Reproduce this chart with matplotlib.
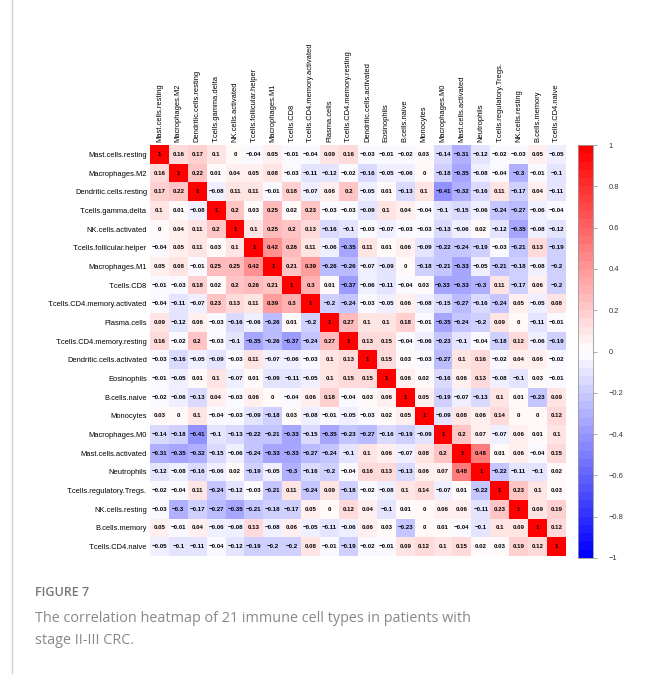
import numpy as np
import matplotlib
matplotlib.use("Agg")
import matplotlib.pyplot as plt
from matplotlib.colors import LinearSegmentedColormap
from matplotlib.lines import Line2D

cell_types = [
    "Mast.cells.resting", "Macrophages.M2", "Dendritic.cells.resting",
    "T.cells.gamma.delta", "NK.cells.activated", "T.cells.follicular.helper",
    "Macrophages.M1", "T.cells.CD8", "T.cells.CD4.memory.activated",
    "Plasma.cells", "T.cells.CD4.memory.resting", "Dendritic.cells.activated",
    "Eosinophils", "B.cells.naive", "Monocytes", "Macrophages.M0",
    "Mast.cells.activated", "Neutrophils", "T.cells.regulatory.Tregs.",
    "NK.cells.resting", "B.cells.memory", "T.cells.CD4.naive",
]

corr = [
    [1, 0.16, 0.17, 0.1, 0, -0.04, 0.05, -0.01, -0.04, 0.09, 0.16, -0.03, -0.01, -0.02, 0.03, -0.14, -0.31, -0.12, -0.02, -0.03, 0.05, -0.05],
    [0.16, 1, 0.22, 0.01, 0.04, 0.05, 0.08, -0.03, -0.11, -0.12, -0.02, -0.16, -0.05, -0.06, 0, -0.18, -0.35, -0.08, -0.04, -0.3, -0.01, -0.1],
    [0.17, 0.22, 1, -0.08, 0.11, 0.11, -0.01, 0.18, -0.07, 0.06, 0.2, -0.05, 0.01, -0.13, 0.1, -0.41, -0.32, -0.16, 0.11, -0.17, 0.04, -0.11],
    [0.1, 0.01, -0.08, 1, 0.2, 0.03, 0.25, 0.02, 0.23, -0.03, -0.03, -0.09, 0.1, 0.04, -0.04, -0.1, -0.15, -0.06, -0.24, -0.27, -0.06, -0.04],
    [0, 0.04, 0.11, 0.2, 1, 0.1, 0.25, 0.2, 0.13, -0.16, -0.1, -0.03, -0.07, -0.03, -0.03, -0.13, -0.06, 0.02, -0.12, -0.35, -0.08, -0.12],
    [-0.04, 0.05, 0.11, 0.03, 0.1, 1, 0.42, 0.26, 0.11, -0.06, -0.35, 0.11, 0.01, 0.06, -0.09, -0.22, -0.24, -0.19, -0.03, -0.21, 0.13, -0.19],
    [0.05, 0.08, -0.01, 0.25, 0.25, 0.42, 1, 0.21, 0.39, -0.26, -0.26, -0.07, -0.09, 0, -0.18, -0.21, -0.33, -0.05, -0.21, -0.18, -0.08, -0.2],
    [-0.01, -0.03, 0.18, 0.02, 0.2, 0.26, 0.21, 1, 0.3, 0.01, -0.37, -0.06, -0.11, -0.04, 0.03, -0.33, -0.33, -0.3, 0.11, -0.17, 0.06, -0.2],
    [-0.04, -0.11, -0.07, 0.23, 0.13, 0.11, 0.39, 0.3, 1, -0.2, -0.24, -0.03, -0.05, 0.06, -0.08, -0.15, -0.27, -0.16, -0.24, 0.05, -0.05, 0.08],
    [0.09, -0.12, 0.06, -0.03, -0.16, -0.06, -0.26, 0.01, -0.2, 1, 0.27, 0.1, 0.1, 0.18, -0.01, -0.35, -0.24, -0.2, 0.09, 0, -0.11, -0.01],
    [0.16, -0.02, 0.2, -0.03, -0.1, -0.35, -0.26, -0.37, -0.24, 0.27, 1, 0.13, 0.15, -0.04, -0.06, -0.23, -0.1, -0.04, -0.18, 0.12, -0.06, -0.19],
    [-0.03, -0.16, -0.05, -0.09, -0.03, 0.11, -0.07, -0.06, -0.03, 0.1, 0.13, 1, 0.15, 0.03, -0.03, -0.27, 0.1, 0.16, -0.02, 0.04, 0.06, -0.02],
    [-0.01, -0.05, 0.01, 0.1, -0.07, 0.01, -0.09, -0.11, -0.05, 0.1, 0.15, 0.15, 1, 0.06, 0.02, -0.16, 0.06, 0.13, -0.08, -0.1, 0.03, -0.01],
    [-0.02, -0.06, -0.13, 0.04, -0.03, 0.06, 0, -0.04, 0.06, 0.18, -0.04, 0.03, 0.06, 1, 0.05, -0.19, -0.07, -0.13, 0.1, 0.01, -0.23, 0.09],
    [0.03, 0, 0.1, -0.04, -0.03, -0.09, -0.18, 0.03, -0.08, -0.01, -0.05, -0.03, 0.02, 0.05, 1, -0.09, 0.08, 0.06, 0.14, 0, 0, 0.12],
    [-0.14, -0.18, -0.41, -0.1, -0.13, -0.22, -0.21, -0.33, -0.15, -0.35, -0.23, -0.27, -0.16, -0.19, -0.09, 1, 0.2, 0.07, -0.07, 0.06, 0.01, 0.1],
    [-0.31, -0.35, -0.32, -0.15, -0.06, -0.24, -0.33, -0.33, -0.27, -0.24, -0.1, 0.1, 0.06, -0.07, 0.08, 0.2, 1, 0.48, 0.01, 0.06, -0.04, 0.15],
    [-0.12, -0.08, -0.16, -0.06, 0.02, -0.19, -0.05, -0.3, -0.16, -0.2, -0.04, 0.16, 0.13, -0.13, 0.06, 0.07, 0.48, 1, -0.22, -0.11, -0.1, 0.02],
    [-0.02, -0.04, 0.11, -0.24, -0.12, -0.03, -0.21, 0.11, -0.24, 0.09, -0.18, -0.02, -0.08, 0.1, 0.14, -0.07, 0.01, -0.22, 1, 0.23, 0.1, 0.03],
    [-0.03, -0.3, -0.17, -0.27, -0.35, -0.21, -0.18, -0.17, 0.05, 0, 0.12, 0.04, -0.1, 0.01, 0, 0.06, 0.06, -0.11, 0.23, 1, 0.09, 0.19],
    [0.05, -0.01, 0.04, -0.06, -0.08, 0.13, -0.08, 0.06, -0.05, -0.11, -0.06, 0.06, 0.03, -0.23, 0, 0.01, -0.04, -0.1, 0.1, 0.09, 1, 0.12],
    [-0.05, -0.1, -0.11, -0.04, -0.12, -0.19, -0.2, -0.2, 0.08, -0.01, -0.19, -0.02, -0.01, 0.09, 0.12, 0.1, 0.15, 0.02, 0.03, 0.19, 0.12, 1],
]

cbar_ticks = [-1, -0.8, -0.6, -0.4, -0.2, 0, 0.2, 0.4, 0.6, 0.8, 1]


def fmt(v):
    return f"{v:g}".replace("-", "\u2212")


vals = np.array(corr)
n = len(cell_types)

cmap = LinearSegmentedColormap.from_list("bwr_corr", ["#0000ff", "#ffffff", "#ff0000"], N=50)

fig = plt.figure(figsize=(6.54, 6.74), dpi=100)
fig.patch.set_facecolor("white")

W, H = 654, 674
ax = fig.add_axes([150 / W, 1 - 556 / H, 416 / W, 411 / H])
im = ax.imshow(vals, cmap=cmap, vmin=-1, vmax=1, aspect="auto",
               interpolation="nearest")

for i in range(n):
    for j in range(n):
        ax.text(j, i, fmt(vals[i, j]), ha="center", va="center",
                fontsize=4.4, fontweight="bold", color="black",
                family="Liberation Sans")

ax.set_xticks(range(n))
ax.set_yticks(range(n))
ax.xaxis.tick_top()
ax.set_xticklabels(cell_types, rotation=90, fontsize=5.4, family="Liberation Sans")
ax.set_yticklabels(cell_types, fontsize=5.4, family="Liberation Sans")
ax.tick_params(length=0, pad=2)
for s in ax.spines.values():
    s.set_visible(False)

# colour bar
cax = fig.add_axes([578 / W, 1 - 558 / H, 15 / W, 413 / H])
cb = fig.colorbar(im, cax=cax, ticks=cbar_ticks)
cb.ax.set_yticklabels([fmt(t) for t in cbar_ticks], fontsize=5.4,
                      family="Liberation Sans", color="#333333")
cb.ax.tick_params(length=3, width=0.5, color="#888888", pad=8)
cb.outline.set_edgecolor("#999999")
cb.outline.set_linewidth(0.6)

# card border and caption
fig.add_artist(Line2D([11.5 / W, 11.5 / W], [0, 1], color="#d0d0d0", lw=1))
fig.text(35 / W, 1 - 593 / H, "FIGURE 7", fontsize=9, color="#777777",
         va="center", family="Open Sans", fontweight="semibold")
fig.text(35 / W, 1 - 618 / H,
         "The correlation heatmap of 21 immune cell types in patients with",
         fontsize=10.4, color="#888888", va="center", family="Open Sans")
fig.text(35 / W, 1 - 641 / H, "stage II-III CRC.",
         fontsize=10.4, color="#888888", va="center", family="Open Sans")

fig.savefig("out.png", dpi=100)
